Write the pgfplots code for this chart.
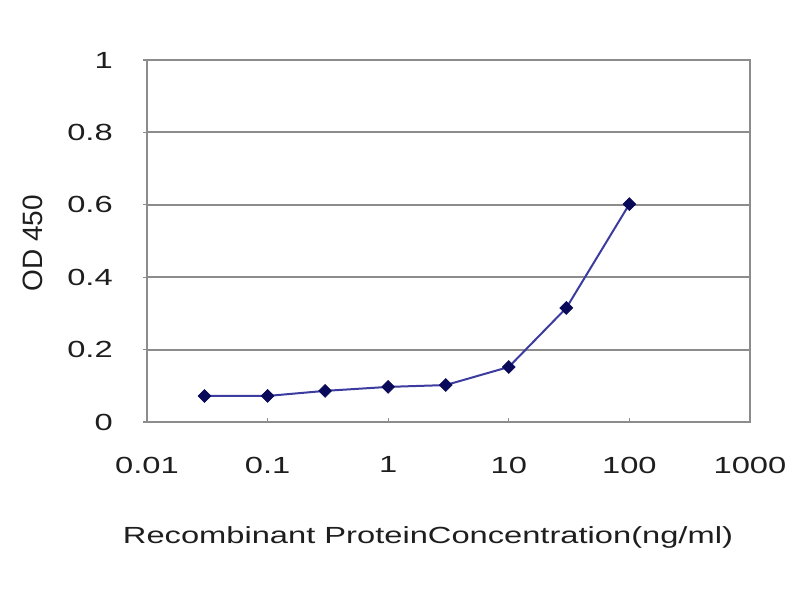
\documentclass[border=0pt]{standalone}
\usepackage{fontspec}
\setmainfont{Liberation Sans}
\newfontfamily\wide[FakeStretch=1.4]{Liberation Sans}
\usepackage{pgfplots}
\pgfplotsset{compat=1.18}
\definecolor{gridgray}{RGB}{140,140,140}
\definecolor{linecol}{RGB}{60,60,160}
\definecolor{markcol}{RGB}{10,10,90}
\definecolor{txt}{RGB}{30,30,30}
\begin{document}
\begin{tikzpicture}
\useasboundingbox (-110.25pt,-133.5pt) rectangle (489.75pt,316.5pt);
\begin{axis}[
  at={(0,0)}, anchor=south west,
  scale only axis,
  width=452.25pt, height=271.5pt,
  xmode=log,
  xmin=0.01, xmax=1000,
  ymin=0, ymax=1,
  xtick={0.01,0.1,1,10,100,1000},
  xticklabels={0.01,0.1,1,10,100,1000},
  ytick={0,0.2,0.4,0.6,0.8,1},
  yticklabels={0,0.2,0.4,0.6,0.8,1},
  minor xtick={},
  log basis x=10,
  axis line style={gridgray, line width=1.4pt},
  ymajorgrids,
  grid style={gridgray, line width=1.4pt},
  xtick pos=bottom, ytick pos=left,
  xtick align=inside, ytick align=outside,
  major tick length=3pt,
  tick style={gridgray, line width=0.8pt},
  /pgf/number format/assume math mode=true,
  ticklabel style={font=\wide\fontsize{17.5}{20}\selectfont, text=txt, inner sep=0pt},
  xticklabel style={anchor=north},
  yticklabel style={anchor=east},
  xticklabel shift=26pt,
  yticklabel shift=22.5pt,
  xlabel={Recombinant ProteinConcentration(ng/ml)},
  ylabel={OD 450},
  xlabel style={font=\wide\fontsize{17.5}{20}\selectfont, text=txt, at={(axis description cs:0.466,-0.318)}, anchor=center},
  ylabel style={font=\fontsize{21}{24}\selectfont, text=txt, at={(axis description cs:-0.189,0.494)}, anchor=center},
]
\addplot[color=linecol, line width=1.5pt, mark=square*, mark size=3.4pt,
  mark options={fill=markcol, draw=markcol, rotate=45, line width=0.5pt}] coordinates {
  (0.03,0.072) (0.1,0.072) (0.3,0.086) (1,0.097) (3,0.102) (10,0.152) (30,0.315) (100,0.602)
};
\end{axis}
\end{tikzpicture}
\end{document}
